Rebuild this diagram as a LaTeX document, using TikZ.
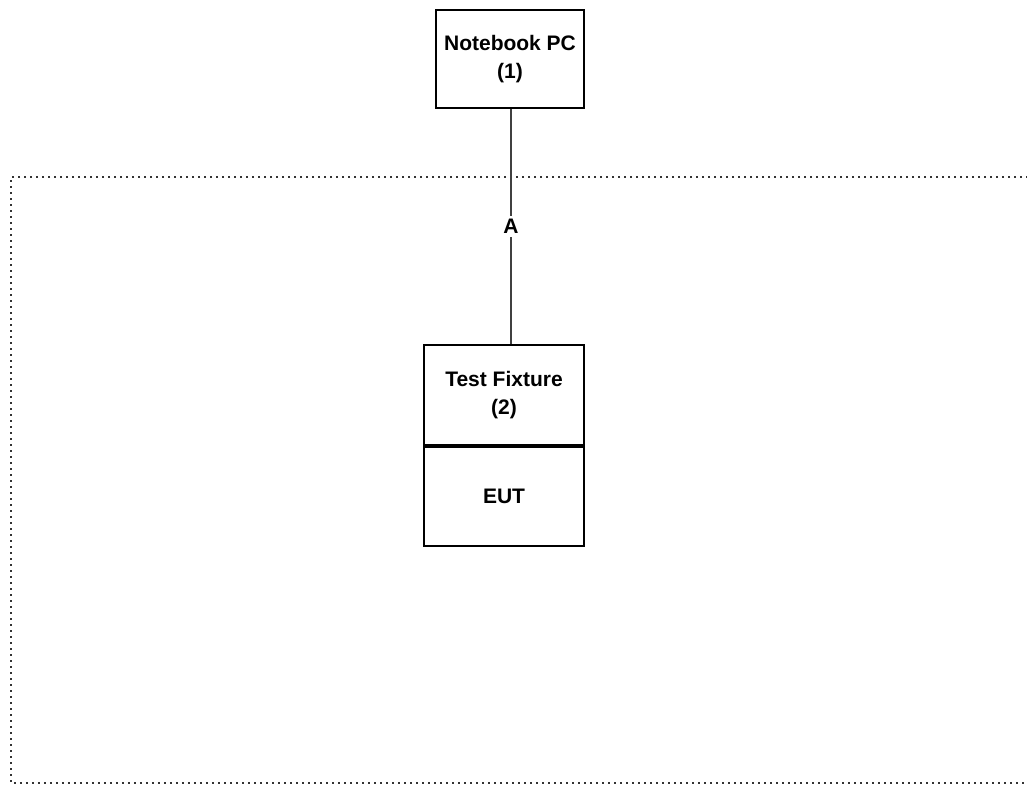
\documentclass[tikz,border=0pt]{standalone}
\usepackage{fontspec}
\setmainfont{Liberation Sans}
\begin{document}
\begin{tikzpicture}[x=1pt,y=-1pt,
  boxstyle/.style={draw=black,line width=2pt,minimum width=148pt,inner sep=0pt,align=center,font=\fontsize{21}{28}\selectfont\bfseries},
  linkstyle/.style={draw=black!75,line width=1.5pt},
  areastyle/.style={draw=black!80,line width=2pt,dash pattern=on 2pt off 4pt}]
\useasboundingbox (0,0) rectangle (1027,785);
\draw[areastyle] (1040,177) -- (11,177) -- (11,783) -- (1040,783);
\node[boxstyle,minimum width=148pt,minimum height=98pt] (pc) at (510,59) {Notebook PC\\(1)};
\node[boxstyle,minimum width=160pt,minimum height=100pt] (tf) at (504,395) {Test Fixture\\(2)};
\node[boxstyle,minimum width=160pt,minimum height=99pt,anchor=north] (eut) at (tf.south) {EUT};
\draw[linkstyle] (pc.south -| 511,0) -- node[fill=white,inner sep=3pt,font=\fontsize{21}{24}\selectfont\bfseries] (a) {A} (tf.north -| 511,0);
\end{tikzpicture}
\end{document}
